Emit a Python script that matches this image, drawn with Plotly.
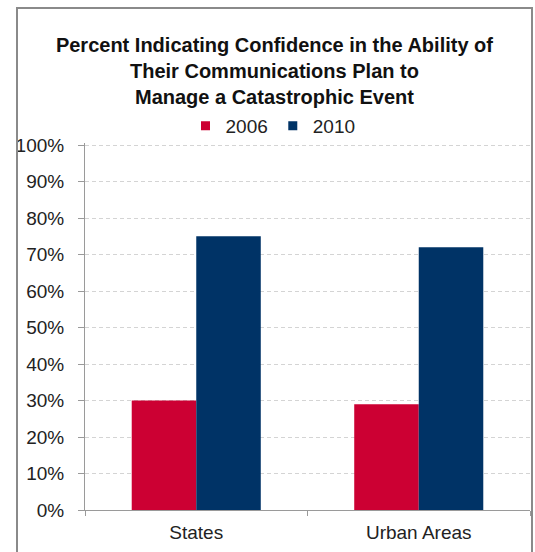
import plotly.graph_objects as go

categories = ["States", "Urban Areas"]
years = ["2006", "2010"]
values_2006 = [0.30, 0.29]
values_2010 = [0.75, 0.72]
y_ticks = [0, 0.1, 0.2, 0.3, 0.4, 0.5, 0.6, 0.7, 0.8, 0.9, 1.0]
y_tick_labels = ["0%", "10%", "20%", "30%", "40%", "50%", "60%", "70%", "80%", "90%", "100%"]
title_lines = ["Percent Indicating Confidence in the Ability of",
               "Their Communications Plan to",
               "Manage a Catastrophic Event"]

FONT = "Arial, Liberation Sans, sans-serif"
RED = "#CC0033"
BLUE = "#003366"
colors = [RED, BLUE]

W, H = 535, 552
ML, MR, MT, MB = 85, 5, 143, 42
plot_h = H - MT - MB

fig = go.Figure()
for name, vals, col in zip(years, [values_2006, values_2010], colors):
    fig.add_trace(go.Bar(x=categories, y=vals, name=name, marker_color=col,
                         marker_line_width=0, showlegend=False))
    fig.add_trace(go.Scatter(x=[None], y=[None], mode="markers", name=name,
                             marker=dict(symbol="square", size=9, color=col),
                             showlegend=True))

fig.update_layout(
    width=W, height=H,
    margin=dict(l=ML, r=MR, t=MT, b=MB),
    paper_bgcolor="white", plot_bgcolor="white",
    barmode="group", bargap=0.42, bargroupgap=0,
    font=dict(family=FONT, size=19, color="#222222"),
    title=dict(text="<br>".join(title_lines), x=0.513, xanchor="center",
               y=1 - 52 / H, yanchor="middle", yref="container",
               font=dict(family=FONT, size=20, color="#111111", weight="bold")),
    showlegend=True,
    legend=dict(orientation="h", x=(273 - ML) / (W - ML - MR), xanchor="center",
                y=1 + (MT - 126) / plot_h, yanchor="middle",
                font=dict(size=19, color="#222222"), itemwidth=30,
                tracegroupgap=0, bgcolor="rgba(0,0,0,0)"),
    xaxis=dict(showline=True, linecolor="#9a9a9a", linewidth=1,
               ticks="outside", tickson="boundaries", ticklen=5, tickcolor="#9a9a9a",
               ticklabelstandoff=5,
               tickfont=dict(size=19, color="#222222"), showgrid=False),
    yaxis=dict(range=[0, plot_h / 365], tickvals=y_ticks, ticktext=y_tick_labels,
               showline=True, linecolor="#9a9a9a", linewidth=1,
               ticks="outside", ticklen=6, tickcolor="#9a9a9a",
               ticklabelstandoff=10,
               showgrid=True, gridcolor="#d4d4d4", griddash="4px,3px", gridwidth=1,
               zeroline=False, tickfont=dict(size=19, color="#222222")),
)

fig.add_shape(type="rect", xref="paper", yref="paper",
              x0=(17 - ML) / (W - ML - MR), x1=(532 - ML) / (W - ML - MR),
              y0=(H - MB - 560) / plot_h, y1=(H - MB - 8) / plot_h,
              line=dict(color="#8a8a8a", width=2), fillcolor="rgba(0,0,0,0)", layer="above")

fig.write_html("out.html", config={"displayModeBar": False},
               post_script="document.body.style.margin='0';document.body.style.overflow='hidden';")
